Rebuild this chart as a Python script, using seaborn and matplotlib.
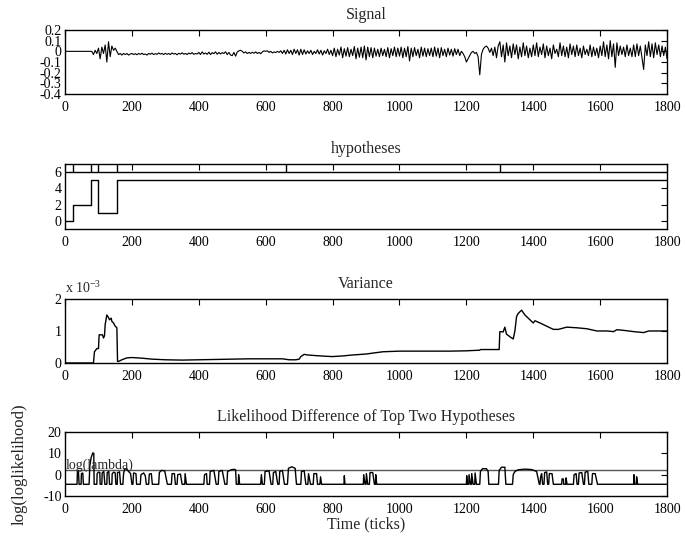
import numpy as np
import matplotlib
matplotlib.use("Agg")
import matplotlib.pyplot as plt
import seaborn as sb

# ---- data ----
# signal, one value every 5 ticks (0 .. 1800)
sig_000 = [0, 0, 0, 0, 0, 0, 0, 0, 0, 0, 0, 0, 0, 0, 0, 0, 0, -0.03, 0.01, -0.02]
sig_100 = [0.03, -0.07, 0.04, -0.02, 0.06, -0.1, 0.09, -0.05, 0.05, 0.01,
           0.03, 0.0, -0.03, -0.02, -0.035, -0.02, -0.03, -0.02, -0.035, -0.025]
sig_200 = [-0.02, -0.03, -0.022, -0.032, -0.02, -0.028, -0.018, -0.03, -0.025, -0.035,
           -0.02, -0.027, -0.017, -0.03, -0.022, -0.028, -0.015, -0.025, -0.02, -0.03]
sig_300 = [-0.018, -0.028, -0.02, -0.03, -0.015, -0.025, -0.02, -0.032, -0.018, -0.026,
           -0.014, -0.027, -0.02, -0.03, -0.016, -0.024, -0.012, -0.028, -0.02, -0.025]
sig_400 = [-0.01, -0.03, -0.005, -0.025, -0.015, -0.028, -0.008, -0.03, -0.012, -0.022,
           -0.005, -0.027, -0.01, -0.025, -0.012, -0.02, -0.004, -0.03, -0.01, -0.035]
sig_500 = [-0.04, -0.01, -0.045, -0.005, 0.005, 0.01, 0.0, -0.015, -0.005, -0.02,
           -0.01, -0.02, -0.008, -0.018, -0.005, -0.02, -0.01, -0.022, -0.005, 0.005]
sig_600 = [0.0, 0.005, -0.01, 0.0, -0.015, -0.005, -0.012, 0.0, -0.01, 0.005,
           -0.02, 0.01, -0.025, 0.015, -0.02, 0.01, -0.03, 0.02, -0.02, 0.015]
sig_700 = [-0.035, 0.02, -0.03, 0.015, -0.025, 0.005, -0.02, 0.01, -0.03, 0.0,
           -0.02, 0.015, -0.025, 0.01, -0.035, 0.005, -0.02, 0.02, -0.03, 0.01]
sig_800 = [-0.04, 0.03, -0.05, 0.02, -0.035, 0.04, -0.06, 0.025, -0.045, 0.035,
           -0.05, 0.02, -0.04, 0.045, -0.07, 0.03, -0.055, 0.04, -0.06, 0.05]
sig_900 = [-0.08, 0.04, -0.05, 0.035, -0.06, 0.03, -0.045, 0.02, -0.05, 0.03,
           -0.04, 0.02, -0.05, 0.035, -0.06, 0.025, -0.04, 0.04, -0.05, 0.03]
sig_1000 = [-0.045, 0.04, -0.06, 0.03, -0.05, 0.045, -0.09, 0.03, -0.05, 0.035,
            -0.04, 0.02, -0.06, 0.04, -0.045, 0.03, -0.05, 0.025, -0.04, 0.03]
sig_1100 = [-0.05, 0.04, -0.045, 0.03, -0.06, 0.035, -0.04, 0.02, -0.05, 0.03,
            -0.035, 0.02, -0.045, 0.025, -0.03, 0.02, -0.04, 0.0, -0.02, -0.05]
sig_1200 = [-0.1, -0.07, -0.04, -0.01, 0.0, -0.02, -0.01, -0.05, -0.22, -0.03,
            0.02, 0.04, 0.05, 0.03, -0.01, 0.03, -0.04, 0.04, -0.06, 0.05]
sig_1300 = [0.09, -0.05, 0.06, -0.1, 0.08, -0.04, 0.05, -0.06, 0.07, -0.03,
            0.06, -0.07, 0.04, -0.05, 0.08, -0.04, 0.05, -0.06, 0.03, -0.05]
sig_1400 = [0.06, -0.04, 0.08, -0.05, 0.04, -0.03, 0.07, -0.06, 0.05, -0.04,
            0.03, -0.07, 0.06, -0.02, 0.02, -0.05, 0.08, -0.04, 0.05, -0.05]
sig_1500 = [0.04, -0.06, 0.07, -0.03, 0.05, -0.05, 0.06, -0.04, 0.03, -0.06,
            0.05, -0.03, 0.02, -0.04, 0.06, -0.05, 0.04, -0.04, 0.03, -0.06]
sig_1600 = [0.05, -0.04, 0.09, -0.05, 0.06, -0.07, 0.1, -0.05, 0.07, -0.15,
            0.08, -0.04, 0.05, -0.03, 0.04, -0.05, 0.06, -0.04, 0.03, -0.05]
sig_1700 = [0.06, -0.05, 0.07, -0.04, 0.05, -0.06, -0.17, 0.06, -0.04, 0.09,
            -0.05, 0.07, -0.06, 0.08, -0.03, 0.06, -0.05, 0.05, -0.04, 0.04]
sig_end = [-0.07]

signal = (sig_000 + sig_100 + sig_200 + sig_300 + sig_400 + sig_500 + sig_600
          + sig_700 + sig_800 + sig_900 + sig_1000 + sig_1100 + sig_1200
          + sig_1300 + sig_1400 + sig_1500 + sig_1600 + sig_1700 + sig_end)
sig_ticks = list(range(0, 1801, 5))

# hypotheses (step line) and change points
hyp_ticks = [0, 25, 25, 78, 78, 100, 100, 155, 155, 1800]
hyp_vals = [0, 0, 2, 2, 5, 5, 1, 1, 5, 5]
change_ticks = [25, 78, 100, 155, 660, 1300]

# variance, in units of 1e-3
var_ticks = [0, 85, 88, 95, 100, 102, 112, 115, 118, 120, 125, 130, 133, 138, 140,
             145, 150, 155, 157, 160, 170, 185, 200, 230, 260, 300, 350, 400, 450,
             500, 550, 600, 650, 670, 690, 700, 705, 715, 725, 750, 780, 800, 830,
             860, 900, 950, 1000, 1050, 1100, 1150, 1200, 1240, 1242, 1298, 1300,
             1310, 1315, 1320, 1330, 1340, 1345, 1350, 1355, 1365, 1375, 1385, 1395,
             1400, 1405, 1420, 1440, 1460, 1475, 1500, 1530, 1560, 1590, 1620, 1640,
             1650, 1670, 1700, 1730, 1745, 1800]
var_e3 = [0, 0, 0.35, 0.45, 0.45, 0.88, 0.88, 0.78, 0.85, 1.2, 1.5, 1.42, 1.35, 1.4,
          1.3, 1.25, 1.15, 1.1, 0.05, 0.05, 0.1, 0.16, 0.17, 0.15, 0.12, 0.1, 0.09,
          0.1, 0.11, 0.12, 0.13, 0.13, 0.13, 0.1, 0.1, 0.12, 0.2, 0.27, 0.25, 0.23,
          0.21, 0.2, 0.22, 0.25, 0.28, 0.35, 0.37, 0.37, 0.37, 0.37, 0.38, 0.4, 0.42,
          0.42, 0.98, 0.97, 1.12, 0.9, 0.82, 0.75, 1.0, 1.45, 1.55, 1.65, 1.5, 1.4,
          1.3, 1.25, 1.32, 1.25, 1.15, 1.05, 1.05, 1.12, 1.1, 1.07, 1.0, 1.0, 0.98,
          1.04, 1.02, 0.98, 0.95, 1.0, 1.0]

# likelihood difference (base level -4.5), and threshold
B = -4.5
log_lambda = 2.3
lik_points = [
    (0, B), (36, B), (37, 1.5), (40, 1.8), (42, B), (48, B), (49, 0.5), (53, 0.8), (55, B),
    (72, B), (74, 4), (78, 8), (83, 10.2), (86, 10), (87, B),
    (95, B), (96, 0.5), (100, 1.2), (104, 1), (105, B),
    (110, B), (111, 0.8), (116, 1.5), (119, B),
    (125, B), (126, 1), (131, 1.5), (133, B),
    (140, B), (141, 0.5), (146, 1.2), (150, 0.8), (152, B),
    (156, B), (157, 1), (163, 1.3), (166, B),
    (173, B), (175, 0.5), (178, 2.5), (183, 2.8), (190, 1.5), (196, 0.5), (200, B),
    (203, B), (205, 0.8), (212, 0.5), (214, B),
    (225, B), (227, 0), (235, 0.8), (240, -0.5), (243, B),
    (250, B), (252, 0.3), (258, 0.5), (261, B),
    (280, B), (282, 1), (288, 2), (298, 1.8), (306, B),
    (318, B), (320, 0.5), (327, 0.5), (330, B), (335, B), (337, 0), (345, 0.3), (350, B),
    (358, B), (359, 0.5), (363, B),
    (415, B), (417, 0), (423, 0.5), (425, B), (432, B), (434, 1.5), (445, 2), (452, B),
    (458, B), (460, 1.5), (470, 2), (478, B), (484, B), (486, 1.5), (497, 2.3),
    (505, 2.5), (510, 2.3), (512, B),
    (518, B), (519, 0), (522, B),
    (585, B), (587, 0), (590, B), (596, B), (598, 1.5), (610, 1.8), (616, B),
    (621, B), (623, 1), (630, 1.5), (636, B),
    (640, B), (642, 1.5), (650, 2), (656, B), (665, B), (668, 3), (678, 3.7), (688, 3), (692, B),
    (705, B), (707, 1.5), (715, 1.8), (720, B), (726, B), (728, 0.5), (734, B),
    (742, B), (744, 0.5), (752, 0.5), (755, B), (762, B), (764, -1), (767, B),
    (834, B), (835, -0.5), (837, B),
    (892, B), (893, 0), (897, B), (900, B), (901, 0.5), (905, B), (910, B), (912, 1),
    (920, 1), (925, B), (928, B), (929, 0), (932, B),
    (1200, B), (1201, -0.5), (1203, B), (1207, B), (1208, 0), (1212, B), (1215, B),
    (1216, 0.5), (1220, B), (1225, B), (1226, 0.8), (1230, B),
    (1240, B), (1242, 1.5), (1248, 2.8), (1260, 2.8), (1265, 1.5), (1267, B),
    (1296, B), (1298, 2), (1305, 3.5), (1315, 3.5), (1318, B),
    (1338, B), (1340, 0), (1345, 1.5), (1355, 2.3), (1375, 2.6), (1395, 2.4), (1410, 1.5), (1418, B),
    (1420, B), (1422, -1), (1425, 0.5), (1428, B), (1432, B), (1434, 1), (1440, 1.3), (1443, B),
    (1446, B), (1448, 0.5), (1456, 0.5), (1460, B),
    (1485, B), (1486, -2), (1490, -2), (1491, B), (1497, B), (1498, -1.5), (1501, B),
    (1520, B), (1522, 0), (1528, 0.5), (1531, B), (1535, B), (1537, 0.8), (1545, 1), (1550, B),
    (1553, B), (1555, 1.2), (1563, 1.5), (1566, B), (1575, B), (1577, 0.5), (1585, 0.5), (1592, B),
    (1700, B), (1701, 0), (1703, B), (1708, B), (1709, -1), (1712, B),
    (1800, B),
]
lik_ticks = [p[0] for p in lik_points]
lik_vals = [p[1] for p in lik_points]

x_ticks = list(range(0, 1801, 200))

# ---- style ----
sb.set_style("white")
plt.rcParams["font.family"] = ["Liberation Serif", "DejaVu Serif"]
plt.rcParams["font.size"] = 10
plt.rcParams["axes.unicode_minus"] = False
plt.rcParams["xtick.direction"] = "in"
plt.rcParams["ytick.direction"] = "in"
plt.rcParams["xtick.top"] = True
plt.rcParams["ytick.right"] = True

TICK_FS = 10
TITLE_FS = 11.5

fig = plt.figure(figsize=(6.86, 5.36), dpi=100)
boxes = [
    [0.0948, 0.8246, 0.8776, 0.1194],
    [0.0948, 0.5728, 0.8776, 0.1213],
    [0.0948, 0.3228, 0.8776, 0.1194],
    [0.0948, 0.0746, 0.8776, 0.1194],
]
axs = [fig.add_axes(b) for b in boxes]


def matlab_axes(ax, yticks, ylim, ylabels=None):
    ax.set_xlim(0, 1800)
    ax.set_ylim(*ylim)
    ax.set_xticks(x_ticks)
    ax.set_xticklabels([str(t) for t in x_ticks])
    ax.set_yticks(yticks)
    if ylabels is not None:
        ax.set_yticklabels(ylabels)
    ax.tick_params(axis="both", length=4, width=0.8, color="black",
                   labelsize=TICK_FS, labelcolor="black")
    ax.tick_params(axis="x", pad=5)
    ax.tick_params(axis="y", pad=2.5)
    for s in ax.spines.values():
        s.set_visible(True)
        s.set_color("black")
        s.set_linewidth(1.0)
    ax.set_xlabel("")
    ax.set_ylabel("")


# Signal
ax = axs[0]
sb.lineplot(x=sig_ticks, y=signal, ax=ax, color="black", linewidth=0.8,
            estimator=None, sort=False)
matlab_axes(ax, [0.2, 0.1, 0, -0.1, -0.2, -0.3, -0.4], (-0.4, 0.2),
            ["0.2", "0.1", "0", "-0.1", "-0.2", "-0.3", "-0.4"])
ax.set_title("Signal", fontsize=TITLE_FS, pad=8)

# hypotheses
ax = axs[1]
sb.lineplot(x=hyp_ticks, y=hyp_vals, ax=ax, color="black", linewidth=1.0,
            estimator=None, sort=False)
ax.axhline(6, color="black", linewidth=1.0)
ax.vlines(change_ticks, 6, 7, color="black", linewidth=1.0)
matlab_axes(ax, [0, 2, 4, 6], (-1, 7))
ax.set_title("hypotheses", fontsize=TITLE_FS, pad=8)

# Variance
ax = axs[2]
sb.lineplot(x=var_ticks, y=var_e3, ax=ax, color="black", linewidth=1.0,
            estimator=None, sort=False)
matlab_axes(ax, [0, 1, 2], (0, 2))
ax.set_title("Variance", fontsize=TITLE_FS, pad=8)
ax.text(0.0, 1.04, r"x 10$^{\mathregular{-3}}$", transform=ax.transAxes,
        fontsize=TICK_FS, ha="left", va="bottom")

# Likelihood difference
ax = axs[3]
ax.axhline(log_lambda, color="#555555", linewidth=1.0)
sb.lineplot(x=lik_ticks, y=lik_vals, ax=ax, color="black", linewidth=1.0,
            estimator=None, sort=False)
matlab_axes(ax, [-10, 0, 10, 20], (-10, 20))
ax.text(2, log_lambda + 0.3, "log(lambda)", fontsize=TICK_FS, ha="left", va="baseline")
ax.set_title("Likelihood Difference of Top Two Hypotheses", fontsize=TITLE_FS, pad=8)
ax.set_xlabel("Time (ticks)", fontsize=TITLE_FS, labelpad=0)
ax.set_ylabel("log(loglikelihood)", fontsize=12, labelpad=11)

fig.savefig("out.png", dpi=100)
